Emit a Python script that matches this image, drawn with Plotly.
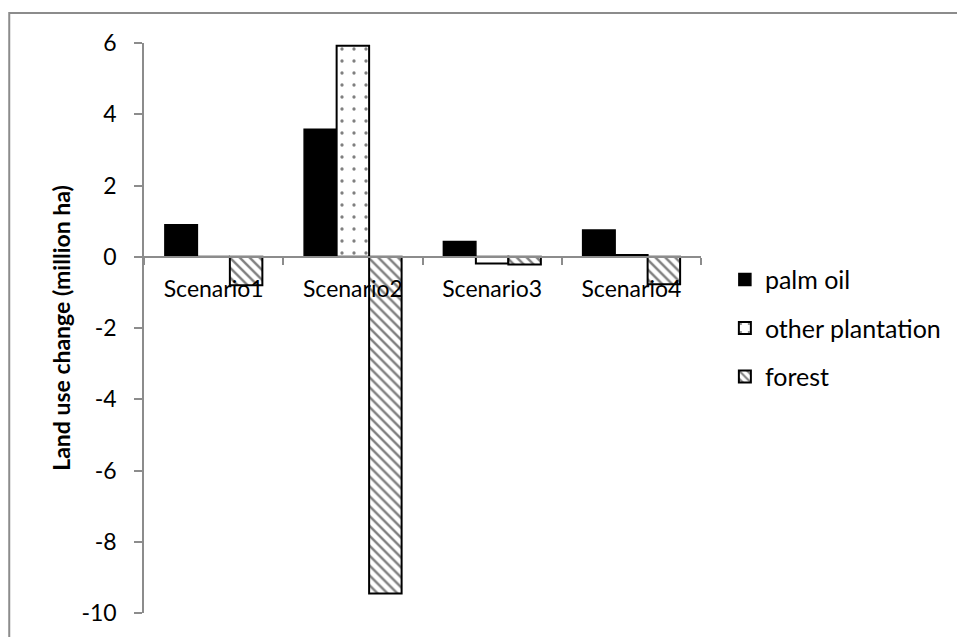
import plotly.graph_objects as go

# Land use change by scenario (million ha)
scenarios = ["Scenario1", "Scenario2", "Scenario3", "Scenario4"]
palm_oil = [0.90, 3.58, 0.43, 0.75]
other_plantation = [0.0, 5.92, -0.19, 0.05]
forest = [-0.80, -9.45, -0.22, -0.77]
y_ticks = [6, 4, 2, 0, -2, -4, -6, -8, -10]
y_tick_labels = ["6", "4", "2", "0", "-2", "-4", "-6", "-8", "-10"]

FONT = "Lato"
GREY = "#8c8c8c"
y_range = [-10, 6]

fig = go.Figure()
fig.add_trace(go.Bar(
    name="palm oil", x=scenarios, y=palm_oil,
    marker=dict(color="black", line=dict(color="black", width=1.5)),
    legendgroup="a",
))
fig.add_trace(go.Bar(
    name="other plantation", x=scenarios, y=other_plantation,
    marker=dict(color="white", line=dict(color="black", width=2),
                pattern=dict(shape=".", size=12, solidity=0.06,
                             fgcolor="black", bgcolor="white")),
    legendgroup="b",
))
fig.add_trace(go.Bar(
    name="forest", x=scenarios, y=forest,
    marker=dict(color="white", line=dict(color="black", width=2),
                pattern=dict(shape="\\", size=7, solidity=0.35,
                             fgcolor="black", bgcolor="white")),
    legendgroup="c",
))

# x axis sits on the zero line of the value axis
zero_pos = (0 - y_range[0]) / (y_range[1] - y_range[0])

fig.update_layout(
    width=957, height=637,
    margin=dict(l=144, r=255, t=43, b=24),
    paper_bgcolor="white", plot_bgcolor="white",
    barmode="group", bargap=0.30, bargroupgap=0,
    font=dict(family=FONT, size=23, color="black"),
    xaxis=dict(
        anchor="free", position=zero_pos,
        showline=True, linecolor=GREY, linewidth=1.5,
        ticks="outside", tickson="boundaries", ticklen=7,
        tickcolor=GREY, tickwidth=1.5,
        showgrid=False, zeroline=False,
        tickfont=dict(family=FONT, size=23),
        ticklabelstandoff=12,
    ),
    yaxis=dict(
        range=y_range, tickvals=y_ticks, ticktext=y_tick_labels,
        showline=True, linecolor=GREY, linewidth=1.5,
        ticks="outside", ticklen=8, tickcolor=GREY, tickwidth=1.5,
        showgrid=False, zeroline=False,
        tickfont=dict(family=FONT, size=23),
        ticklabelstandoff=13,
        title=dict(text="<b>Land use change (million ha)</b>",
                   font=dict(family=FONT, size=23), standoff=4),
    ),
    legend=dict(
        x=1.041, y=0.625, xanchor="left", yanchor="top",
        traceorder="grouped", tracegroupgap=13,
        font=dict(family=FONT, size=25),
        itemwidth=30, bgcolor="rgba(0,0,0,0)",
    ),
    shapes=[dict(
        type="rect", xref="paper", yref="paper",
        x0=(9 - 144) / 558, x1=1.6, y0=-0.2, y1=1 + 30 / 570,
        line=dict(color=GREY, width=2), fillcolor="rgba(0,0,0,0)",
        layer="below",
    )],
)

fig.write_html("out.html")
